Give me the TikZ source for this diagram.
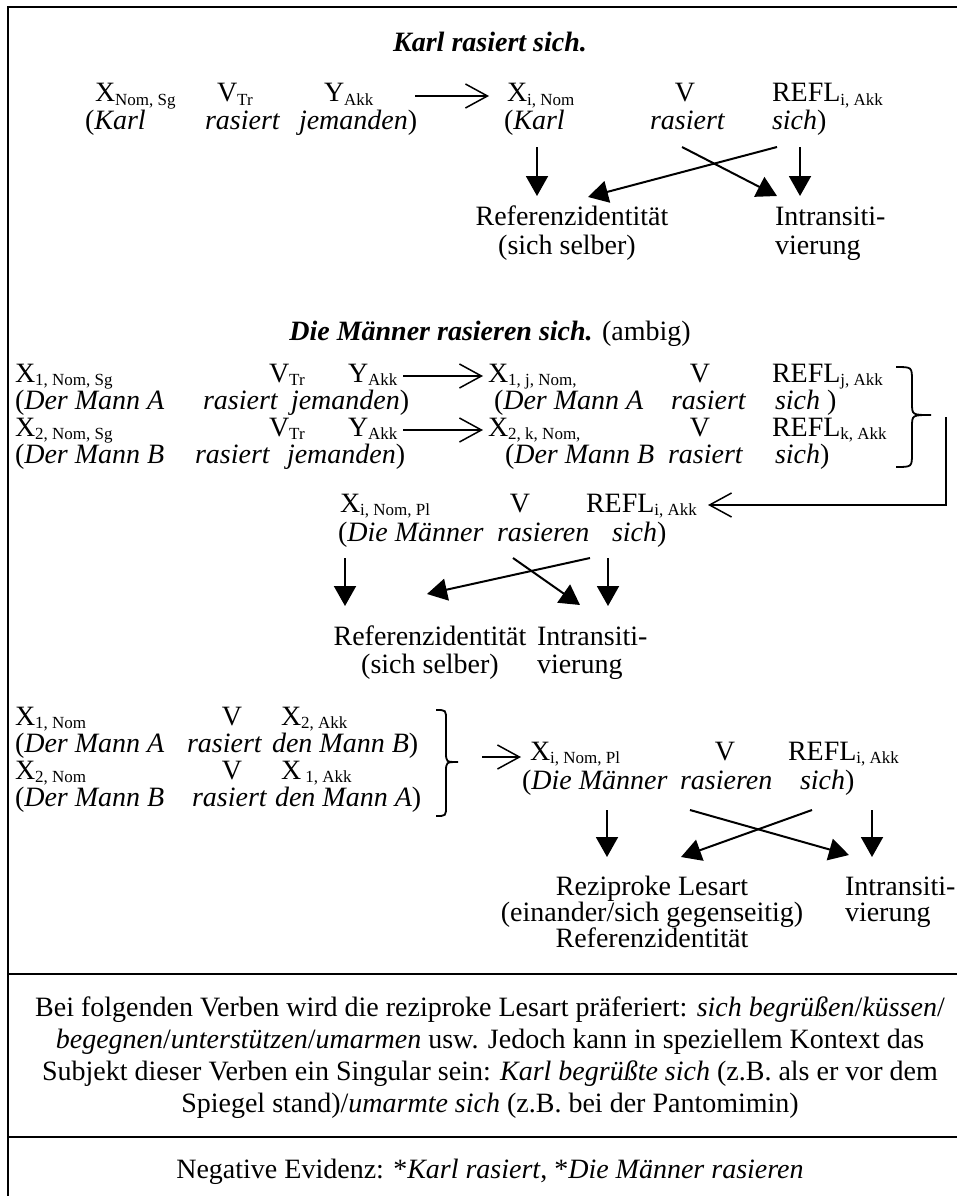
\documentclass[tikz,border=0pt]{standalone}
\usepackage{fontspec}
\setmainfont{Liberation Serif}
\usetikzlibrary{arrows.meta}
% small lowered index text after a symbol
\newcommand{\lo}[1]{\raisebox{-0.13em}{\fontsize{17}{17}\selectfont #1}}
\begin{document}
\begin{tikzpicture}[x=1pt,y=-1pt,
  every node/.style={inner sep=0pt,outer sep=0pt,font=\fontsize{28}{30}\selectfont},
  t/.style={anchor=base west},
  tc/.style={anchor=base},
  ttl/.style={anchor=base,font=\fontsize{28}{30}\selectfont\bfseries\itshape},
  opn/.style={line width=1.5pt,-{Straight Barb[length=22pt,width=24pt,line width=1.5pt]}},
  dn/.style={line width=2pt,-{Triangle[length=20pt,width=22pt]}},
  frame/.style={line width=2.5pt},
  brc/.style={line width=1.8pt}]
\useasboundingbox (0,0) rectangle (957,1196);
\fill[white] (0,0) rectangle (957,1196);

% table frame and row rules
\draw[frame] (8,1210) -- (8,7) -- (975,7);
\draw[frame] (8,974) -- (975,974);
\draw[frame] (8,1137) -- (975,1137);

% ---------- Karl rasiert sich ----------
\node[ttl] (t1) at (490,52) {Karl rasiert sich.};
\node[t] (a1) at (95,102) {X\lo{Nom, Sg}};
\node[t] (a2) at (217,102) {V\lo{Tr}};
\node[t] (a3) at (324,102) {Y\lo{Akk}};
\node[t] (a4) at (507,102) {X\lo{i, Nom}};
\node[tc] (a5) at (685,102) {V};
\node[t] (a6) at (772,102) {REFL\lo{i, Akk}};
\node[t] (b1) at (85,129) {(\textit{Karl}};
\node[t] (b2) at (205,129) {\textit{rasiert}};
\node[t] (b3) at (299,129) {\textit{jemanden})};
\node[t] (b4) at (504,129) {(\textit{Karl}};
\node[t] (b5) at (650,129) {\textit{rasiert}};
\node[t] (b6) at (772,129) {\textit{sich})};
\coordinate (s1a) at (415,96); \coordinate (s1b) at (489,96);
\draw[opn] (s1a) -- (s1b);

\node[tc] (r1a) at (572,225) {Referenzidentität};
\node[tc] (r1b) at (567,254) {(sich selber)};
\node[t] (i1a) at (775,225) {Intransiti-};
\node[t] (i1b) at (775,254) {vierung};
\coordinate (u1) at (537,147); \coordinate (v1) at (537,196);
\coordinate (u2) at (777,147); \coordinate (v2) at (588,197);
\coordinate (u3) at (682,147); \coordinate (v3) at (777,196);
\coordinate (u4) at (800,147); \coordinate (v4) at (800,196);
\draw[dn] (u1) -- (v1);
\draw[dn] (u2) -- (v2);
\draw[dn] (u3) -- (v3);
\draw[dn] (u4) -- (v4);

% ---------- Die Maenner rasieren sich ----------
\node[tc] (t2) at (490,340) {\textbf{\textit{Die Männer rasieren sich.}} (ambig)};
\node[t] (c1) at (15,382) {X\lo{1, Nom, Sg}};
\node[t] (c2) at (269,382) {V\lo{Tr}};
\node[t] (c3) at (348,382) {Y\lo{Akk}};
\node[t] (c4) at (488,382) {X\lo{1, j, Nom,}};
\node[tc] (c5) at (700,382) {V};
\node[t] (c6) at (772,382) {REFL\lo{j, Akk}};
\node[t] (d1) at (15,409) {(\textit{Der Mann A}};
\node[t] (d2) at (203,409) {\textit{rasiert}};
\node[t] (d3) at (291,409) {\textit{jemanden})};
\node[t] (d4) at (494,409) {(\textit{Der Mann A}};
\node[t] (d5) at (671,409) {\textit{rasiert}};
\node[t] (d6) at (775,409) {\textit{sich} )};
\node[t] (c7) at (15,436) {X\lo{2, Nom, Sg}};
\node[t] (c8) at (269,436) {V\lo{Tr}};
\node[t] (c9) at (348,436) {Y\lo{Akk}};
\node[t] (c10) at (488,436) {X\lo{2, k, Nom,}};
\node[tc] (c11) at (700,436) {V};
\node[t] (c12) at (772,436) {REFL\lo{k, Akk}};
\node[t] (d7) at (15,463) {(\textit{Der Mann B}};
\node[t] (d8) at (195,463) {\textit{rasiert}};
\node[t] (d9) at (287,463) {\textit{jemanden})};
\node[t] (d10) at (505,463) {(\textit{Der Mann B}};
\node[t] (d11) at (668,463) {\textit{rasiert}};
\node[t] (d12) at (775,463) {\textit{sich})};
\coordinate (s2a) at (403,376); \coordinate (s2b) at (483,376);
\coordinate (s3a) at (403,430); \coordinate (s3b) at (483,430);
\draw[opn] (s2a) -- (s2b);
\draw[opn] (s3a) -- (s3b);

% right brace joining both readings
\draw[brc] (896,367) .. controls (912,367) .. (912,381) -- (912,403)
  .. controls (912,415) .. (931,415) .. controls (912,415) .. (912,427)
  -- (912,453) .. controls (912,467) .. (896,467);
\coordinate (q1) at (946,417); \coordinate (q2) at (708,505);
\draw[opn] (q1) |- (q2);

\node[t] (e1) at (340,512) {X\lo{i, Nom, Pl}};
\node[tc] (e2) at (520,512) {V};
\node[t] (e3) at (586,512) {REFL\lo{i, Akk}};
\node[t] (f1) at (338,541) {(\textit{Die Männer}};
\node[t] (f2) at (497,541) {\textit{rasieren}};
\node[t] (f3) at (612,541) {\textit{sich})};

\node[tc] (r2a) at (430,645) {Referenzidentität};
\node[tc] (r2b) at (430,673) {(sich selber)};
\node[t] (i2a) at (537,645) {Intransiti-};
\node[t] (i2b) at (537,673) {vierung};
\coordinate (u5) at (345,558); \coordinate (v5) at (345,606);
\coordinate (u6) at (590,558); \coordinate (v6) at (427,594);
\coordinate (u7) at (513,558); \coordinate (v7) at (580,605);
\coordinate (u8) at (608,558); \coordinate (v8) at (608,606);
\draw[dn] (u5) -- (v5);
\draw[dn] (u6) -- (v6);
\draw[dn] (u7) -- (v7);
\draw[dn] (u8) -- (v8);

% ---------- reciprocal reading ----------
\node[t] (g1) at (15,725) {X\lo{1, Nom}};
\node[tc] (g2) at (232,725) {V};
\node[t] (g3) at (281,725) {X\lo{2, Akk}};
\node[t] (h1) at (15,752) {(\textit{Der Mann A}};
\node[t] (h2) at (187,752) {\textit{rasiert}};
\node[t] (h3) at (272,752) {\textit{den Mann B})};
\node[t] (g4) at (15,779) {X\lo{2, Nom}};
\node[tc] (g5) at (232,779) {V};
\node[t] (g6) at (281,779) {X\lo{\ 1, Akk}};
\node[t] (h4) at (15,806) {(\textit{Der Mann B}};
\node[t] (h5) at (192,806) {\textit{rasiert}};
\node[t] (h6) at (275,806) {\textit{den Mann A})};
\draw[brc] (436,710) .. controls (446,710) .. (446,720) -- (446,752)
  .. controls (446,762) .. (458,762) .. controls (446,762) .. (446,772)
  -- (446,806) .. controls (446,816) .. (436,816);
\coordinate (s4a) at (482,757); \coordinate (s4b) at (521,757);
\draw[opn] (s4a) -- (s4b);

\node[t] (m1) at (530,760) {X\lo{i, Nom, Pl}};
\node[tc] (m2) at (725,760) {V};
\node[t] (m3) at (788,760) {REFL\lo{i, Akk}};
\node[t] (n1) at (522,789) {(\textit{Die Männer}};
\node[t] (n2) at (680,789) {\textit{rasieren}};
\node[t] (n3) at (800,789) {\textit{sich})};

\node[tc] (r3a) at (652,895) {Reziproke Lesart};
\node[tc] (r3b) at (652,921) {(einander/sich gegenseitig)};
\node[tc] (r3c) at (652,947) {Referenzidentität};
\node[t] (i3a) at (845,895) {Intransiti-};
\node[t] (i3b) at (845,921) {vierung};
\coordinate (u9) at (607,810); \coordinate (v9) at (607,857);
\coordinate (u10) at (812,810); \coordinate (v10) at (681,857);
\coordinate (u11) at (690,810); \coordinate (v11) at (849,855);
\coordinate (u12) at (872,810); \coordinate (v12) at (872,857);
\draw[dn] (u9) -- (v9);
\draw[dn] (u10) -- (v10);
\draw[dn] (u11) -- (v11);
\draw[dn] (u12) -- (v12);

% ---------- notes ----------
\node[tc] (l1) at (490,1016) {Bei folgenden Verben wird die reziproke Lesart präferiert: \textit{sich begrüßen}/\textit{küssen}/};
\node[tc] (l2) at (490,1048) {\textit{begegnen}/\textit{unterstützen}/\textit{umarmen} usw. Jedoch kann in speziellem Kontext das};
\node[tc] (l3) at (490,1080) {Subjekt dieser Verben ein Singular sein: \textit{Karl begrüßte sich} (z.B. als er vor dem};
\node[tc] (l4) at (490,1112) {Spiegel stand)/\textit{umarmte sich} (z.B. bei der Pantomimin)};
\node[tc] (neg) at (490,1178) {Negative Evidenz: *\textit{Karl rasiert}, *\textit{Die Männer rasieren}};
\end{tikzpicture}
\end{document}
